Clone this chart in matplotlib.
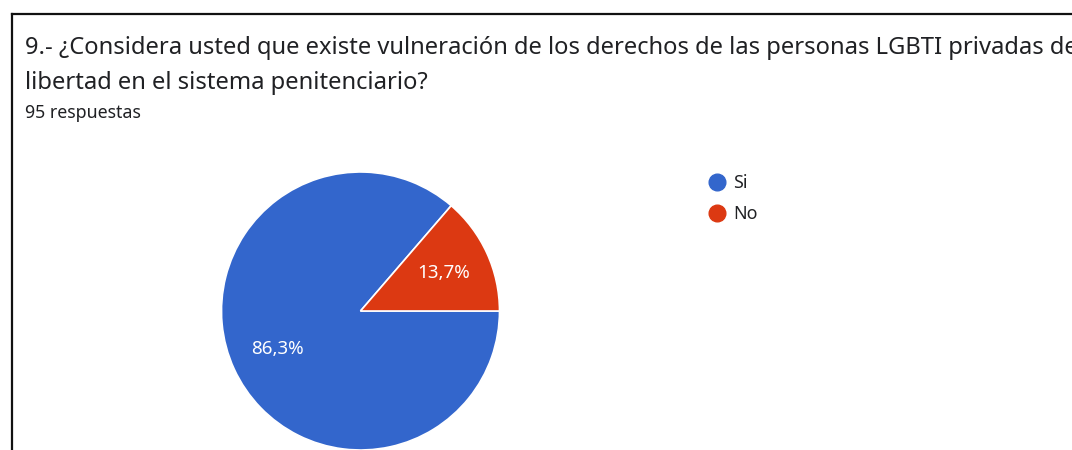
import matplotlib
matplotlib.use("Agg")
import matplotlib.pyplot as plt
from matplotlib.lines import Line2D

plt.rcParams['font.family'] = ['Noto Sans', 'DejaVu Sans']

title = "9.- ¿Considera usted que existe vulneración de los derechos de las personas LGBTI privadas de\nlibertad en el sistema penitenciario?"
subtitle = "95 respuestas"
labels = ["Si", "No"]
counts = [82, 13]
colors = ["#3366cc", "#dc3912"]

W, H = 1072, 450
fig = plt.figure(figsize=(W / 100, H / 100), dpi=100)

# frame of the screenshot (top and left edges only)
fig.add_artist(Line2D([12 / W, 1], [1 - 14 / H, 1 - 14 / H], color="#111111", lw=1.6))
fig.add_artist(Line2D([12 / W, 12 / W], [0, 1 - 14 / H], color="#111111", lw=1.6))

line1, line2 = title.split("\n")
fig.text(25 / W, 1 - 54 / H, line1, fontsize=17.1, color="#202124",
         va="baseline", ha="left")
fig.text(25 / W, 1 - 89 / H, line2, fontsize=17.1, color="#202124",
         va="baseline", ha="left")
fig.text(25 / W, 1 - 118 / H, subtitle, fontsize=12.8, color="#202124",
         va="baseline", ha="left")

# pie
r = 139
cx, cy = 360.5, 311
ax = fig.add_axes([(cx - r) / W, (H - cy - r) / H, 2 * r / W, 2 * r / H])
start = 360 * counts[1] / sum(counts)
wedges, _, autotexts = ax.pie(counts, colors=colors, startangle=start, counterclock=True,
                              autopct=lambda p: ("%.1f%%" % p).replace(".", ","),
                              pctdistance=0.66,
                              wedgeprops=dict(edgecolor="white", linewidth=1.2),
                              textprops=dict(color="white", fontsize=13.5))
ax.set_xlim(-1, 1)
ax.set_ylim(-1, 1)
ax.set_aspect("equal")
ax.axis("off")

handles = [Line2D([], [], marker="o", linestyle="none", markersize=12,
                  markerfacecolor=c, markeredgecolor=c) for c in colors]
fig.legend(handles, labels, loc="upper left", bbox_to_anchor=(708 / W, 1 - 174 / H),
           frameon=False, fontsize=12.8, handlelength=1.0, handletextpad=0.4,
           labelspacing=0.75, borderpad=0, borderaxespad=0, labelcolor="#202124")

fig.savefig("out.png", dpi=100)
